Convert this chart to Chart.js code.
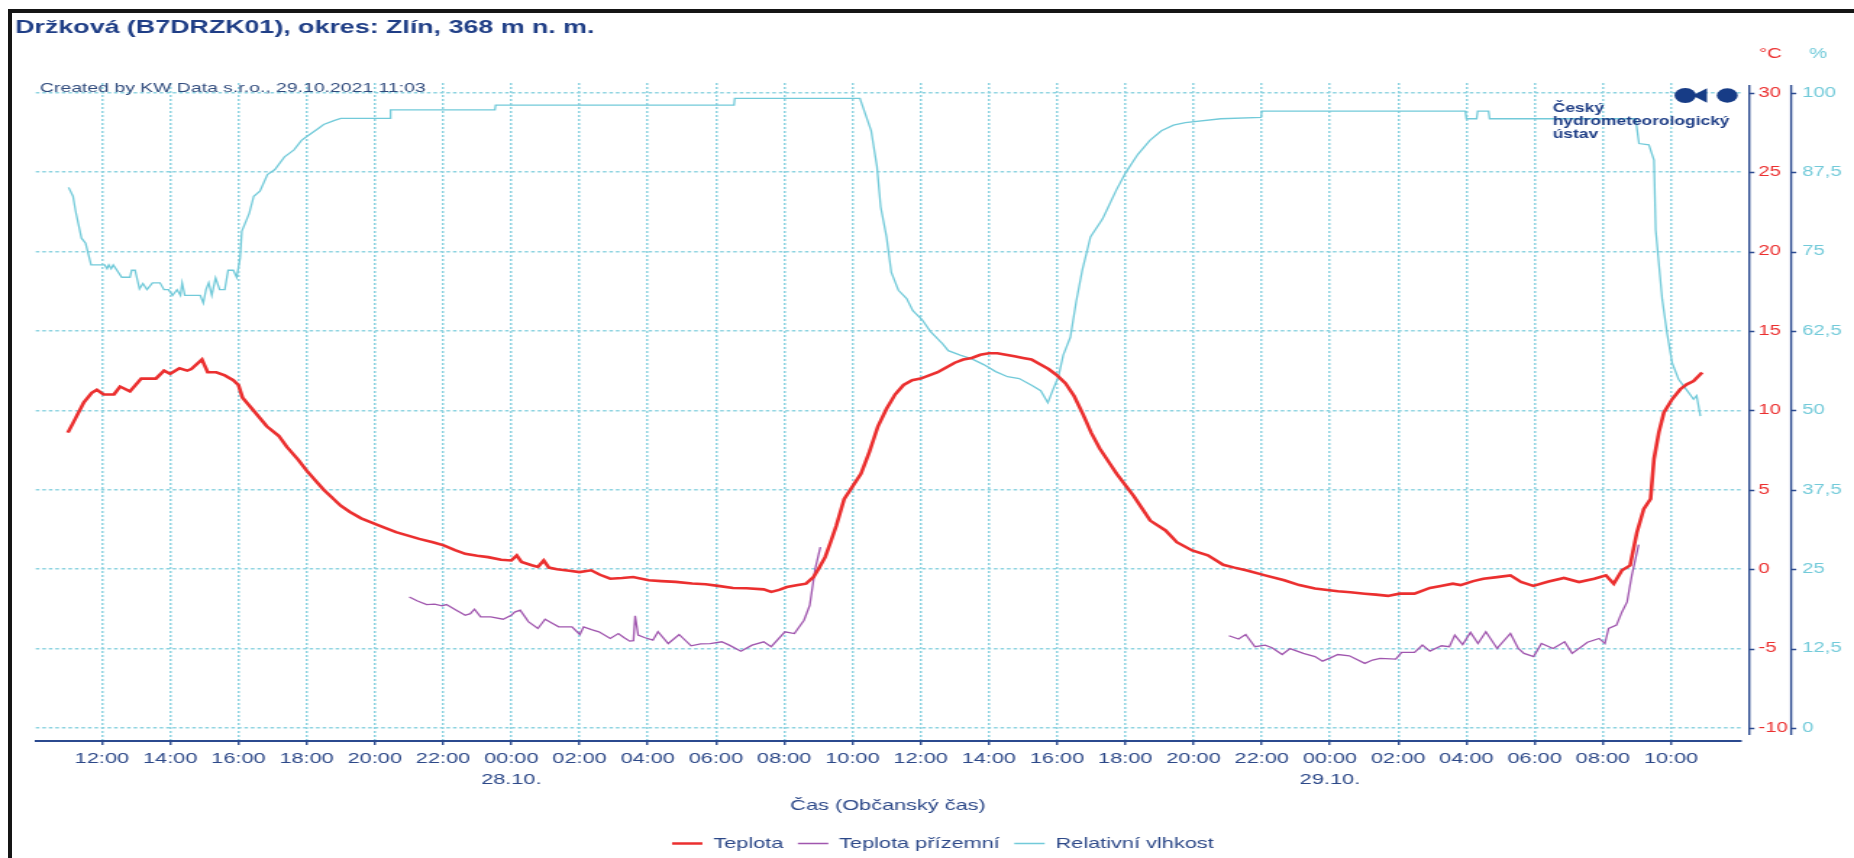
<!DOCTYPE html>
<html>
<head>
<meta charset="utf-8">
<title>Držková – teplota a vlhkost</title>
<script src="https://cdn.jsdelivr.net/npm/chart.js@4.4.0/dist/chart.umd.min.js"></script>
<style>
  html, body { margin: 0; padding: 0; background: #fff; overflow: hidden; }
  /* the source picture is a 1280 px wide chart stretched to 1854 px */
  #stage { position: absolute; left: 0; top: 0; width: 1280px; height: 858px; transform: scaleX(1.4484375); transform-origin: 0 0; }
  #frame { position: absolute; left: 8px; top: 9px; right: 0; bottom: 0; border-top: 4px solid #151515; border-left: 4px solid #151515; pointer-events: none; }
</style>
</head>
<body>
<div id="stage"><canvas id="chart" width="1280" height="858"></canvas></div>
<div id="frame"></div>
<script>
// hours counted from 27.10. 00:00
const tempTimes = [
  11.0, 11.2, 11.47, 11.7, 11.85, 12.05, 12.35, 12.53, 12.82, 13.15,
  13.58, 13.82, 14.0, 14.27, 14.5, 14.62, 14.93, 15.1, 15.35, 15.6,
  15.85, 16.0, 16.12, 16.4, 16.83, 17.18, 17.42, 17.75, 18.0, 18.5,
  19.0, 19.27, 19.6, 20.0, 20.3, 20.62, 21.0, 21.3, 21.7, 22.02,
  22.35, 22.65, 23.0, 23.32, 23.7, 24.0, 24.16, 24.3, 24.6, 24.78,
  24.95, 25.1, 25.34, 25.7, 26.0, 26.34, 26.6, 26.9, 27.25, 27.57,
  28.03, 28.4, 28.82, 29.3, 29.7, 30.06, 30.5, 30.9, 31.4, 31.62,
  31.85, 32.08, 32.4, 32.64, 32.86, 33.0, 33.2, 33.36, 33.53, 33.76,
  34.0, 34.25, 34.5, 34.75, 35.0, 35.25, 35.5, 35.75, 36.0, 36.25,
  36.5, 36.75, 37.0, 37.25, 37.5, 37.75, 38.0, 38.25, 38.5, 38.75,
  39.0, 39.25, 39.5, 39.75, 40.0, 40.25, 40.5, 40.75, 41.0, 41.25,
  41.5, 41.75, 42.0, 42.25, 42.5, 42.73, 43.18, 43.51, 43.96, 44.42,
  44.87, 45.2, 45.54, 46.1, 46.66, 47.1, 47.56, 48.23, 48.6, 49.02,
  49.35, 49.7, 50.04, 50.48, 50.93, 51.25, 51.6, 51.83, 52.2, 52.5,
  52.9, 53.29, 53.6, 53.96, 54.41, 54.86, 55.3, 55.75, 56.09, 56.32,
  56.56, 56.8, 57.0, 57.2, 57.4, 57.5, 57.64, 57.79, 58.03, 58.27,
  58.46, 58.66, 58.91
];
const tempValues = [
  8.6, 9.4, 10.5, 11.1, 11.3, 11.0, 11.0, 11.5, 11.2, 12.0,
  12.0, 12.5, 12.3, 12.65, 12.5, 12.6, 13.2, 12.4, 12.4, 12.2,
  11.9, 11.6, 10.8, 10.1, 9.0, 8.4, 7.7, 6.9, 6.2, 5.0,
  4.0, 3.6, 3.2, 2.86, 2.6, 2.33, 2.1, 1.91, 1.7, 1.5,
  1.2, 0.97, 0.85, 0.76, 0.6, 0.55, 0.87, 0.45, 0.25, 0.14,
  0.55, 0.1, 0.0, -0.1, -0.18, -0.07, -0.35, -0.6, -0.55, -0.49,
  -0.7, -0.75, -0.8, -0.9, -0.95, -1.05, -1.18, -1.2, -1.27, -1.43,
  -1.3, -1.12, -1.0, -0.91, -0.49, 0.0, 0.76, 1.7, 2.75, 4.43,
  5.2, 6.0, 7.4, 9.0, 10.1, 11.0, 11.6, 11.9, 12.0, 12.2,
  12.4, 12.7, 13.0, 13.2, 13.3, 13.5, 13.6, 13.6, 13.5, 13.4,
  13.3, 13.2, 12.9, 12.6, 12.2, 11.7, 10.9, 9.8, 8.6, 7.6,
  6.8, 6.0, 5.3, 4.6, 3.8, 3.06, 2.44, 1.7, 1.18, 0.87,
  0.28, 0.1, -0.07, -0.39, -0.7, -1.0, -1.22, -1.39, -1.45, -1.54,
  -1.6, -1.68, -1.54, -1.54, -1.18, -1.05, -0.91, -1.0, -0.75, -0.6,
  -0.5, -0.39, -0.8, -1.05, -0.77, -0.55, -0.81, -0.6, -0.39, -0.91,
  -0.07, 0.24, 2.33, 3.8, 4.43, 6.94, 8.6, 9.87, 10.7, 11.33,
  11.64, 11.85, 12.38
];

// ground temperature is only measured at night; null breaks the line
const groundTimes = [
  21.01, 21.25, 21.52, 21.75, 21.97, 22.1, 22.4, 22.65, 22.8, 22.92,
  23.1, 23.4, 23.76, 24.0, 24.1, 24.26, 24.5, 24.78, 24.99, 25.2,
  25.39, 25.78, 26.01, 26.12, 26.35, 26.57, 26.9, 27.14, 27.3, 27.47,
  27.58, 27.63, 27.72, 27.9, 28.15, 28.3, 28.6, 28.92, 29.27, 29.55,
  29.83, 30.17, 30.39, 30.73, 31.06, 31.4, 31.62, 32.02, 32.3, 32.58,
  32.75, 32.91, 33.06, 39.0,
  45.04, 45.32, 45.53, 45.8, 46.1, 46.3, 46.6, 46.83, 47.22, 47.56,
  47.78, 48.0, 48.23, 48.57, 49.02, 49.25, 49.47, 49.93, 50.1, 50.48,
  50.71, 50.93, 51.27, 51.5, 51.66, 51.89, 52.12, 52.34, 52.57, 52.9,
  53.29, 53.52, 53.69, 53.97, 54.2, 54.54, 54.88, 55.1, 55.55, 55.89,
  56.06, 56.17, 56.4, 56.56, 56.71, 56.85, 57.05
];
const groundValues = [
  -1.75, -2.0, -2.23, -2.2, -2.31, -2.23, -2.6, -2.9, -2.8, -2.52,
  -3.0, -3.0, -3.15, -2.9, -2.7, -2.58, -3.3, -3.73, -3.15, -3.4,
  -3.63, -3.63, -4.11, -3.63, -3.8, -3.94, -4.36, -4.05, -4.3, -4.53,
  -4.5, -2.94, -4.15, -4.3, -4.47, -3.94, -4.68, -4.11, -4.82, -4.7,
  -4.68, -4.57, -4.78, -5.16, -4.78, -4.57, -4.88, -3.94, -4.05, -3.21,
  -2.27, 0.03, 1.39, null,
  -4.19, -4.4, -4.11, -4.88, -4.78, -4.94, -5.37, -5.0, -5.3, -5.5,
  -5.79, -5.6, -5.37, -5.45, -5.93, -5.72, -5.62, -5.66, -5.24, -5.24,
  -4.78, -5.16, -4.82, -4.88, -4.15, -4.74, -3.98, -4.68, -3.94, -4.99,
  -4.05, -4.99, -5.3, -5.5, -4.68, -4.99, -4.57, -5.3, -4.6, -4.36,
  -4.68, -3.73, -3.52, -2.69, -2.06, -0.39, 1.55
];

const humidityTimes = [
  11.02, 11.15, 11.23, 11.4, 11.52, 11.68, 12.08, 12.15, 12.2, 12.27,
  12.33, 12.58, 12.82, 12.87, 12.97, 13.1, 13.2, 13.32, 13.48, 13.7,
  13.82, 13.95, 14.07, 14.2, 14.3, 14.35, 14.43, 14.88, 14.97, 15.05,
  15.13, 15.22, 15.33, 15.45, 15.6, 15.7, 15.85, 15.95, 16.05, 16.1,
  16.32, 16.45, 16.63, 16.85, 17.07, 17.35, 17.63, 17.85, 18.0, 18.3,
  18.5, 18.8, 19.0, 20.44, 20.46, 23.52, 23.54, 30.53, 30.55, 34.22,
  34.55, 34.72, 34.83, 35.0, 35.14, 35.35, 35.59, 35.77, 36.04, 36.29,
  36.64, 36.81, 37.16, 37.5, 37.85, 38.2, 38.55, 38.89, 39.24, 39.52,
  39.73, 39.87, 40.04, 40.18, 40.39, 40.56, 40.74, 40.98, 41.33, 41.5,
  41.74, 42.02, 42.37, 42.72, 43.06, 43.41, 43.76, 44.8, 45.98, 46.0,
  51.97, 52.0, 52.3, 52.33, 52.65, 52.68, 56.96, 57.06, 57.35, 57.5,
  57.55, 57.74, 57.88, 58.03, 58.22, 58.47, 58.66, 58.75, 58.86
];
const humidityValues = [
  85.1, 83.7, 81.3, 77.1, 76.3, 72.9, 72.9, 72.3, 72.9, 72.3,
  72.9, 70.95, 70.95, 72.05, 72.05, 69.1, 69.96, 69.0, 70.07, 70.07,
  69.0, 69.0, 68.1, 69.0, 68.1, 70.07, 68.1, 68.1, 66.9, 69.0,
  70.07, 68.1, 70.85, 69.0, 69.0, 72.05, 72.05, 70.95, 74.0, 78.2,
  81.05, 83.7, 84.5, 87.1, 87.9, 89.9, 91.0, 92.5, 93.1, 94.2,
  95.0, 95.6, 95.97, 95.97, 97.3, 97.3, 98.05, 98.05, 99.1, 99.1,
  94.0, 88.4, 82.0, 77.3, 71.7, 68.9, 67.6, 65.7, 64.3, 62.4,
  60.5, 59.4, 58.7, 58.1, 57.2, 56.1, 55.3, 55.0, 54.0, 53.1,
  51.2, 53.1, 55.3, 58.7, 61.5, 67.1, 72.1, 77.3, 80.1, 82.0,
  84.7, 87.5, 90.3, 92.5, 94.0, 94.9, 95.3, 95.9, 96.1, 97.1,
  97.1, 95.9, 95.9, 97.1, 97.1, 95.9, 95.9, 92.0, 91.8, 89.4,
  78.4, 67.5, 62.2, 57.5, 54.9, 53.1, 51.75, 52.3, 49.1
];

const seriesLabels = ["Teplota", "Teplota přízemní", "Relativní vlhkost"];
const timeTicks = [12, 14, 16, 18, 20, 22, 24, 26, 28, 30, 32, 34, 36, 38, 40, 42, 44, 46, 48, 50, 52, 54, 56, 58];
const dayLabels = { 24: "28.10.", 48: "29.10." };
const tempTicks = [-10, -5, 0, 5, 10, 15, 20, 25, 30];
const humidityTicks = [0, 12.5, 25, 37.5, 50, 62.5, 75, 87.5, 100];

const RED = "#eb2f2f";
const PURPLE = "#a056ae";
const CYAN = "#72cad9";
const GRID = "#8dd3e0";
const AXIS = "#2b4a8f";
const TEXT = "#2c4888";
const FONT = '"Liberation Sans", Arial, sans-serif';

// temperature axis range; humidity axis is the same range mapped by (t + 10) * 2.5
const tempMin = -10.816;
const tempMax = 30.61;

function toPoints(times, values) {
  return times.map((t, i) => ({ x: t, y: values[i] }));
}

function timeLabel(value) {
  const hour = ((value % 24) + 24) % 24;
  const text = String(hour).padStart(2, "0") + ":00";
  return dayLabels[value] ? [text, dayLabels[value]] : text;
}

const decorPlugin = {
  id: "decor",
  afterDraw(chart) {
    const { ctx, scales } = chart;
    ctx.save();

    // the two right axes stand a little apart from the plot
    ctx.strokeStyle = AXIS;
    ctx.lineWidth = 1.4;
    const axes = [
      [scales.y.left + 6.2, scales.y, tempTicks],
      [scales.y1.left - 0.6, scales.y1, humidityTicks],
    ];
    axes.forEach(([x, scale, ticks]) => {
      ctx.beginPath();
      ctx.moveTo(x, 85);
      ctx.lineTo(x, 735);
      ticks.forEach((v) => {
        const py = Math.round(scale.getPixelForValue(v)) + 0.5;
        ctx.moveTo(x, py);
        ctx.lineTo(x + 3.5, py);
      });
      ctx.stroke();
    });

    ctx.textBaseline = "alphabetic";
    ctx.textAlign = "left";
    ctx.fillStyle = "#1f3e86";
    ctx.font = "bold 18.5px " + FONT;
    ctx.fillText("Držková (B7DRZK01), okres: Zlín, 368 m n. m.", 10.5, 33);

    ctx.textBaseline = "middle";
    ctx.fillStyle = "#2f4a7c";
    ctx.font = "13.4px " + FONT;
    ctx.fillText("Created by KW Data s.r.o., 29.10.2021 11:03", 27.6, 88);

    ctx.font = "14px " + FONT;
    ctx.fillStyle = RED;
    ctx.fillText("°C", 1214.5, 54);
    ctx.fillStyle = CYAN;
    ctx.fillText("%", 1249, 54);

    // ČHMÚ logo
    ctx.fillStyle = "#173c86";
    ctx.beginPath();
    ctx.arc(1163.5, 95.5, 7.4, 0, Math.PI * 2);
    ctx.fill();
    ctx.beginPath();
    ctx.moveTo(1168.5, 95.5);
    ctx.lineTo(1178.5, 88.3);
    ctx.lineTo(1178.5, 102.7);
    ctx.closePath();
    ctx.fill();
    ctx.beginPath();
    ctx.arc(1192.5, 95.5, 7.2, 0, Math.PI * 2);
    ctx.fill();

    ctx.textBaseline = "alphabetic";
    ctx.fillStyle = "#1f3e86";
    ctx.font = "bold 12px " + FONT;
    ctx.fillText("Český", 1072, 112);
    ctx.fillText("hydrometeorologický", 1072, 125);
    ctx.fillText("ústav", 1072, 138);

    ctx.restore();
  },
};

Chart.defaults.font.family = FONT;

new Chart(document.getElementById("chart"), {
  type: "line",
  data: {
    datasets: [
      {
        label: seriesLabels[0],
        data: toPoints(tempTimes, tempValues),
        borderColor: RED,
        backgroundColor: RED,
        borderWidth: 2.6,
        yAxisID: "y",
      },
      {
        label: seriesLabels[1],
        data: toPoints(groundTimes, groundValues),
        borderColor: PURPLE,
        backgroundColor: PURPLE,
        borderWidth: 1.3,
        spanGaps: false,
        yAxisID: "y",
      },
      {
        label: seriesLabels[2],
        data: toPoints(humidityTimes, humidityValues),
        borderColor: CYAN,
        backgroundColor: CYAN,
        borderWidth: 1.3,
        yAxisID: "y1",
      },
    ],
  },
  options: {
    responsive: false,
    animation: false,
    events: [],
    elements: {
      point: { radius: 0, pointStyle: "line" },
      line: { tension: 0 },
    },
    layout: {
      padding: { left: 24.7, right: 2.8, top: 83, bottom: -3 },
    },
    plugins: {
      title: { display: false },
      tooltip: { enabled: false },
      legend: {
        position: "bottom",
        labels: {
          usePointStyle: true,
          pointStyle: "line",
          pointStyleWidth: 21,
          color: TEXT,
          padding: 10,
          font: { size: 15 },
        },
      },
    },
    scales: {
      x: {
        type: "linear",
        position: "bottom",
        min: 10.06,
        max: 60.03,
        afterBuildTicks(scale) {
          scale.ticks = timeTicks.map((v) => ({ value: v }));
        },
        afterFit(scale) {
          scale.height = 85;
        },
        grid: {
          color: GRID,
          lineWidth: 1.5,
          drawTicks: true,
          tickLength: 4,
          tickColor: AXIS,
          tickWidth: 1.4,
          tickBorderDash: [],
        },
        border: { display: true, color: AXIS, width: 2, dash: [2, 2] },
        ticks: {
          autoSkip: false,
          maxRotation: 0,
          padding: 3.5,
          color: TEXT,
          font: { size: 15, lineHeight: 1.4 },
          callback: (value) => timeLabel(value),
        },
        title: {
          display: true,
          text: "Čas (Občanský čas)",
          color: TEXT,
          font: { size: 15 },
          padding: { top: 0, bottom: 11.5 },
        },
      },
      y: {
        type: "linear",
        position: "right",
        min: tempMin,
        max: tempMax,
        afterBuildTicks(scale) {
          scale.ticks = tempTicks.map((v) => ({ value: v }));
        },
        afterFit(scale) {
          scale.width = 35.7;
        },
        grid: { color: GRID, lineWidth: 1.5, drawTicks: false },
        border: { display: false, dash: [2.5, 2] },
        ticks: {
          padding: 12.5,
          color: RED,
          font: { size: 14 },
          callback: (value) => String(value),
        },
      },
      y1: {
        type: "linear",
        position: "right",
        min: (tempMin + 10) * 2.5,
        max: (tempMax + 10) * 2.5,
        afterBuildTicks(scale) {
          scale.ticks = humidityTicks.map((v) => ({ value: v }));
        },
        afterFit(scale) {
          scale.width = 40;
        },
        grid: { drawOnChartArea: false, drawTicks: false },
        border: { display: false },
        ticks: {
          padding: 7,
          color: CYAN,
          font: { size: 14 },
          callback: (value) => String(value).replace(".", ","),
        },
      },
    },
  },
  plugins: [decorPlugin],
});
</script>
</body>
</html>
